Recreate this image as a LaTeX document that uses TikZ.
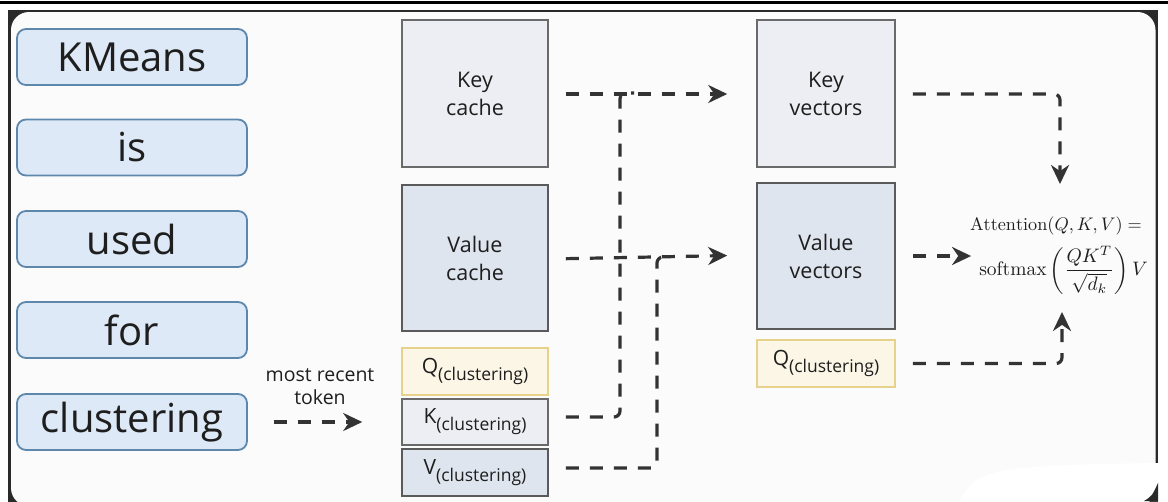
\documentclass[tikz,border=0pt]{standalone}
\usepackage{amsmath}
\usepackage{graphicx}
\usepackage{fontspec}
\newfontfamily\hand{Open Sans}
\usetikzlibrary{arrows.meta}

\definecolor{ink}{HTML}{1E1E1E}
\definecolor{linegray}{HTML}{333333}
\definecolor{framedark}{HTML}{2A2A2A}
\definecolor{panel}{HTML}{FBFBFC}
\definecolor{wordfill}{HTML}{DDE9F6}
\definecolor{wordedge}{HTML}{5E87AC}
\definecolor{keyfill}{HTML}{EDEDF4}
\definecolor{valfill}{HTML}{DFE5EE}
\definecolor{boxedge}{HTML}{6A6A6A}
\definecolor{qfill}{HTML}{FBF6E6}
\definecolor{qedge}{HTML}{E6D28A}

\newcommand\sublabel[1]{{\fontsize{21}{23}\selectfont #1}\raisebox{-7pt}{\fontsize{17.5}{19}\selectfont(clustering)}}

\tikzset{
  word/.style={draw=wordedge, fill=wordfill, line width=1.8pt, rounded corners=9pt,
    minimum width=230pt, minimum height=56pt, text=ink,
    font=\hand\fontsize{40}{44}\selectfont},
  cachebox/.style={draw=boxedge, line width=1.6pt, text=ink, align=center,
    font=\hand\fontsize{21.5}{28}\selectfont},
  keybox/.style={cachebox, fill=keyfill},
  valbox/.style={cachebox, fill=valfill, draw=boxedge!85!black},
  qbox/.style={cachebox, fill=qfill, draw=qedge},
  flow/.style={draw=linegray, line width=3.2pt, dash pattern=on 13pt off 11pt,
    rounded corners=6pt},
  flowarrow/.style={flow, -{Stealth[length=19pt,width=18pt]}},
  formula/.style={text=ink, inner sep=0pt},
}

\begin{document}
\begin{tikzpicture}[x=1pt,y=-1pt]
\useasboundingbox (0,0) rectangle (1168,501);
\fill[white] (0,0) rectangle (1168,501);
\fill[black] (0,0.5) rectangle (1168,4);

% framed panel
\fill[framedark] (8,10) rectangle (1158,520);
\fill[panel, rounded corners=18pt] (11,12) rectangle (1155.5,506);
% blank patch at the lower right edge
\fill[white] (960,501) .. controls (975,470) and (990,465) .. (1158,463) -- (1158,501) -- cycle;
\fill[framedark] (1158,483) -- (1158,501) -- (1144,501) .. controls (1152,496) .. (1158,483) -- cycle;

% sentence tokens
\node[word] (w1) at (132,57)    {KMeans};
\node[word] (w2) at (132,147.5) {is};
\node[word] (w3) at (132,239)   {used};
\node[word] (w4) at (132,330)   {for};
\node[word] (w5) at (132,422)   {clustering};

% caches and current token projections
\node[keybox, minimum width=146pt, minimum height=147pt] (kc) at (475,93.5) {Key\\cache};
\node[valbox, minimum width=146pt, minimum height=146pt] (vc) at (475,258) {Value\\cache};
\node[qbox,   minimum width=146pt, minimum height=47pt]  (qq) at (475,371.5) {\sublabel{Q}};
\node[keybox, minimum width=146pt, minimum height=46pt]  (kk) at (475,422) {\sublabel{K}};
\node[valbox, minimum width=146pt, minimum height=47pt]  (vv) at (475,472.5) {\sublabel{V}};

% vectors used for attention
\node[keybox, minimum width=138pt, minimum height=147pt] (kv) at (826,93.5) {Key\\vectors};
\node[valbox, minimum width=138pt, minimum height=146pt] (vvec) at (826,256) {Value\\vectors};
\node[qbox,   minimum width=138pt, minimum height=47pt]  (qv) at (826,363.5) {\sublabel{Q}};

% attention formula, two right-aligned lines
\node[formula, anchor=east] (att1) at (1142,226)
  {\scalebox{1.82}{$\mathrm{Attention}(Q,K,V) =$}};
\node[formula, anchor=east] (att) at (1148,270)
  {\scalebox{1.95}{$\mathrm{softmax}\left(\dfrac{QK^T}{\sqrt{d_k}}\right)V$}};

% most recent token
\node[text=ink, align=center, font=\hand\fontsize{19.5}{23}\selectfont] (mrt) at (320,387) {most recent\\token};
\draw[flowarrow, rounded corners=0pt, shorten <=26pt, shorten >=39pt] (w5.east) -- (kk.west);

% junction points
\coordinate (kjoin) at (620,93);
\coordinate (vjoin) at (657,257);
\coordinate (kdrop) at (1060,184);
\coordinate (qrise) at (1062,312);

% cache to vectors
\draw[flowarrow, shorten <=17pt, shorten >=29pt] ([yshift=-0.5pt]kc.east) -- ([yshift=-0.5pt]kv.west);
\draw[flowarrow, shorten <=17pt, shorten >=29pt] ([yshift=-1pt]vc.east) -- ([yshift=1pt]vvec.west);

% appending the current key and value
\draw[flow] ([xshift=17pt,yshift=5pt]kk.east) -| (kjoin) -- ++(14,0);
\draw[flow] ([xshift=17pt,yshift=4.5pt]vv.east) -| (vjoin) -- ++(14,0);

% into the attention formula
\draw[flowarrow] ([xshift=17pt,yshift=-0.5pt]kv.east) -| (kdrop);
\draw[flowarrow, rounded corners=0pt, shorten <=17pt, shorten >=8pt] (vvec.east) -- (att.west |- vvec.east);
\draw[flowarrow] ([xshift=17pt]qv.east) -| (qrise);
\end{tikzpicture}
\end{document}
